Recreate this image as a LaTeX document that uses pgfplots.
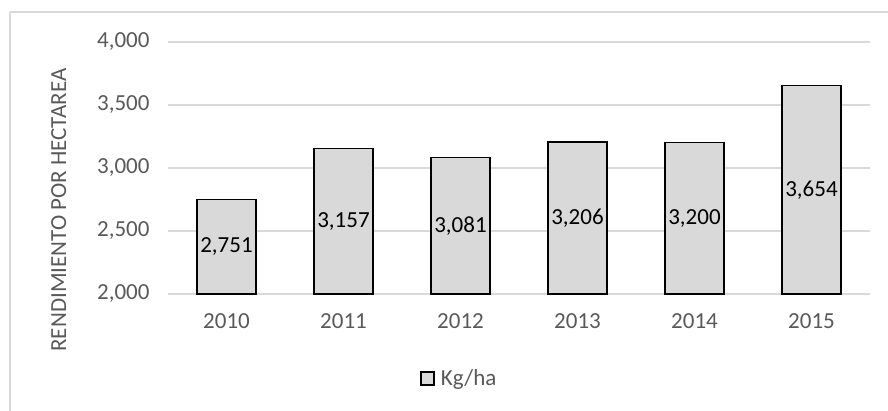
\documentclass[border=0pt]{standalone}
\usepackage{fontspec}
\setmainfont{Carlito}
\usepackage{pgfplots}
\pgfplotsset{compat=1.18}
\definecolor{barfill}{HTML}{D9D9D9}
\definecolor{gridc}{HTML}{D9D9D9}
\definecolor{tickc}{HTML}{595959}
\newcommand{\chartfont}{\fontsize{23bp}{27bp}\selectfont}
\begin{document}
\begin{tikzpicture}[x=1bp,y=1bp]
\useasboundingbox (0,0) rectangle (888,410);
\draw[gridc, line width=1.5bp] (10,398) -- (900,398) (10,398) -- (10,-10);
\begin{axis}[
  at={(168bp,116bp)}, anchor=south west,
  scale only axis, width=702bp, height=252bp,
  xmin=-0.5, xmax=5.5, ymin=2000, ymax=4000,
  xtick={0,1,2,3,4,5},
  xticklabels={2010,2011,2012,2013,2014,2015},
  ytick={2000,2500,3000,3500,4000},
  axis line style={draw=none},
  ymajorgrids, grid style={gridc, line width=1.3bp},
  major tick length=0pt,
  tick label style={font=\chartfont, text=tickc},
  yticklabel style={xshift=-15bp},
  xticklabel style={yshift=-16bp},
  /pgf/number format/1000 sep={,},
  /pgf/number format/assume math mode=true,
  legend style={draw=none, fill=none, at={(axis description cs:0.415,-0.335)}, anchor=center, font=\chartfont, text=tickc},
  legend image code/.code={\draw[fill=barfill, draw=black, line width=1.3bp] (0bp,-6.5bp) rectangle (13bp,6.5bp); \path[draw=none, fill=none] (0bp,0bp) -- (18bp,0bp);},
]
\addplot[ybar, bar width=59bp, fill=barfill, draw=black, line width=1.3bp,
  nodes near coords,
  visualization depends on={rawy \as \ry},
  every node near coord/.append style={anchor=center, font=\chartfont, text=black, yshift={-(\ry-2000)*0.06324}},
] coordinates {(0,2751) (1,3157) (2,3081) (3,3206) (4,3200) (5,3654)};
\addlegendentry{Kg/ha}
\end{axis}
\node[rotate=90, anchor=base, text=tickc, font=\chartfont] at (66,200) {RENDIMIENTO POR HECTAREA};
\end{tikzpicture}
\end{document}
